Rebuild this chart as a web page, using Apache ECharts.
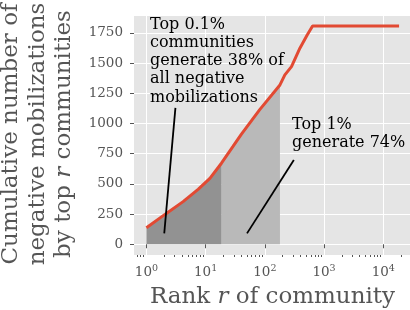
<!DOCTYPE html>
<html><head><meta charset="utf-8">
<script src="https://cdn.jsdelivr.net/npm/echarts@6/dist/echarts.min.js"></script>
<style>html,body{margin:0;padding:0;background:#fff}#c{width:410px;height:310px}</style>
</head><body><div id="c"></div>
<script>
// ---- data ----
const ranks      = [1, 2, 4.16, 7.46, 11.8, 18.5, 29, 40, 82, 180, 218, 282, 391, 519, 640, 18500];
const cumulative = [137, 243, 353, 455, 546, 671, 810, 910, 1115, 1319, 1402, 1471, 1623, 1733, 1808, 1808];
const topPointOneCutoff = 18.5;   // top 0.1% of communities
const topOneCutoff = 180;         // top 1% of communities
const yTicks = [0, 250, 500, 750, 1000, 1250, 1500, 1750];
const xMajorTicks = [1, 10, 100, 1000, 10000];
const xMinorTicks = [0.7, 0.8, 0.9, 2, 3, 4, 5, 6, 7, 8, 9, 20, 30, 40, 50, 60, 70, 80, 90,
  200, 300, 400, 500, 600, 700, 800, 900, 2000, 3000, 4000, 5000, 6000, 7000, 8000, 9000, 20000];
const note1Text = 'Top 0.1%\ncommunities\ngenerate 38% of\nall negative\nmobilizations';
const note1From = [3.09, 1129], note1To = [2, 90];
const note2Text = 'Top 1%\ngenerate 74%';
const note2From = [309, 698], note2To = [50, 90];
const xTitle = 'Rank {i|r} of community';
const yTitle = 'Cumulative number of\nnegative mobilizations\nby top {i|r} communities';

// ---- build ----
const FONT = 'DejaVu Serif';
const GREY = '#555555';
const pairs = ranks.map((r, i) => [r, cumulative[i]]);
const darkPairs = pairs.filter(p => p[0] <= topPointOneCutoff);
const lightPairs = pairs.filter(p => p[0] >= topPointOneCutoff && p[0] <= topOneCutoff);

const chart = echarts.init(document.getElementById('c'), null, {renderer: 'canvas'});
const xCommon = {type: 'log', logBase: 10, min: 0.617, max: 28300, position: 'bottom',
  axisLine: {show: false}};
chart.setOption({
  animation: false,
  grid: {left: 134, right: 0, top: 16, bottom: 55, show: true, backgroundColor: '#E5E5E5', borderWidth: 0},
  xAxis: [
    Object.assign({}, xCommon, {
      axisTick: {show: true, customValues: xMajorTicks, length: 4, lineStyle: {color: GREY, width: 1}},
      axisLabel: {show: true, customValues: xMajorTicks, margin: 9,
        formatter: v => '{a|10}{s|' + Math.round(Math.log10(v)) + '}',
        rich: {a: {fontFamily: FONT, fontSize: 13.5, color: GREY, lineHeight: 16},
               s: {fontFamily: FONT, fontSize: 9.5, color: GREY, lineHeight: 10, verticalAlign: 'top'}}},
      splitLine: {show: true, lineStyle: {color: '#ffffff', width: 1}}
    }),
    Object.assign({}, xCommon, {
      axisTick: {show: true, customValues: xMinorTicks, length: 2, lineStyle: {color: GREY, width: 1}},
      axisLabel: {show: false},
      splitLine: {show: false}
    })
  ],
  yAxis: {type: 'value', min: -89, max: 1890, axisLine: {show: false},
    axisTick: {show: true, customValues: yTicks, length: 4, lineStyle: {color: GREY, width: 1}},
    axisLabel: {customValues: yTicks, margin: 11, fontFamily: FONT, fontSize: 13.5, color: GREY,
      formatter: v => String(v)},
    splitLine: {show: true, lineStyle: {color: '#ffffff', width: 1}}
  },
  series: [
    {type: 'line', data: lightPairs, showSymbol: false, symbol: 'none', z: 1,
      lineStyle: {width: 0}, areaStyle: {color: '#b9b9b9', opacity: 1}},
    {type: 'line', data: darkPairs, showSymbol: false, symbol: 'none', z: 2,
      lineStyle: {width: 0}, areaStyle: {color: '#929292', opacity: 1}},
    {type: 'line', data: pairs, showSymbol: false, symbol: 'none', z: 4,
      lineStyle: {width: 3, color: '#E24A33'},
      markLine: {silent: true, symbol: 'none', animation: false,
        lineStyle: {color: '#000', width: 1.8, type: 'solid'}, label: {show: false},
        data: [[{coord: note1From}, {coord: note1To}], [{coord: note2From}, {coord: note2To}]]}}
  ],
  graphic: [
    {type: 'text', x: 150, y: 61, z: 100, style: {text: note1Text, fontFamily: FONT, fontSize: 16,
      lineHeight: 18.3, fill: '#000', align: 'left', verticalAlign: 'middle'}},
    {type: 'text', x: 292, y: 134, z: 100, style: {text: note2Text, fontFamily: FONT, fontSize: 16,
      lineHeight: 18.3, fill: '#000', align: 'left', verticalAlign: 'middle'}},
    {type: 'text', x: 272.5, y: 297, z: 100, style: {text: xTitle, fontFamily: FONT, fontSize: 23,
      fill: GREY, align: 'center', verticalAlign: 'middle',
      rich: {i: {fontFamily: FONT, fontSize: 23, fontStyle: 'italic', fill: GREY}}}},
    {type: 'text', x: 38, y: 134, rotation: Math.PI / 2, z: 100, style: {text: yTitle, fontFamily: FONT,
      fontSize: 23, lineHeight: 26.5, fill: GREY, align: 'center', verticalAlign: 'middle',
      rich: {i: {fontFamily: FONT, fontSize: 23, lineHeight: 26.5, fontStyle: 'italic', fill: GREY}}}}
  ]
});
</script></body></html>
